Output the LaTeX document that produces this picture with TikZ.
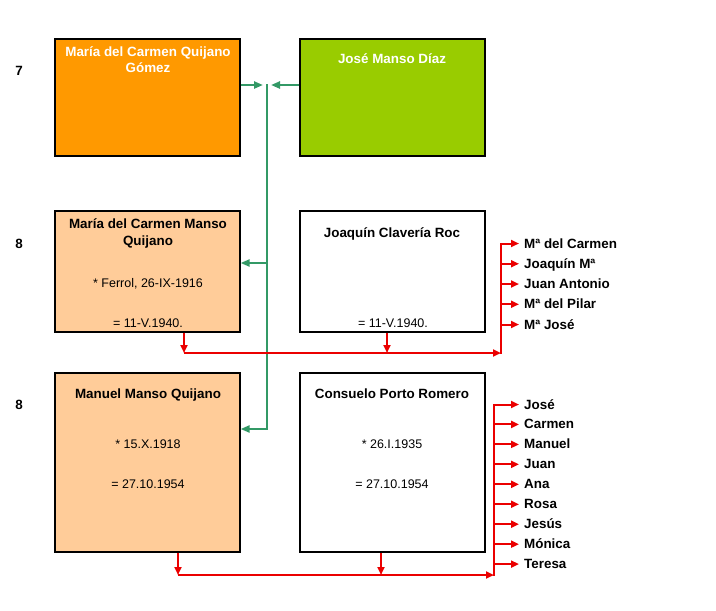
\documentclass[tikz,border=0pt]{standalone}
\usepackage{fontspec}
\setmainfont{Liberation Sans}
\usetikzlibrary{arrows.meta}
\definecolor{naranja}{RGB}{255,153,0}
\definecolor{verde}{RGB}{153,204,0}
\definecolor{salmon}{RGB}{255,204,153}
\definecolor{verdeosc}{RGB}{51,153,102}
\definecolor{rojo}{RGB}{235,0,0}
\begin{document}
\begin{tikzpicture}[x=1pt,y=-1pt,
  caja/.style={draw,line width=1.8pt,anchor=north west,minimum width=184.5pt,inner sep=0},
  nom/.style={font=\fontsize{13.4}{15}\selectfont\bfseries,inner sep=0,anchor=base},
  dat/.style={font=\fontsize{12.5}{15}\selectfont,inner sep=0,anchor=base},
  gen/.style={font=\fontsize{13.4}{15}\selectfont\bfseries,inner sep=0,anchor=base},
  hijo/.style={font=\fontsize{13.4}{15}\selectfont\bfseries,inner sep=0,inner xsep=5pt,
    text height=9pt,text depth=0pt,anchor=base west},
  lverde/.style={draw=verdeosc,line width=2.2pt,-{Triangle[length=9pt,width=7pt]}},
  lrojo/.style={draw=rojo,line width=2pt,-{Triangle[length=8pt,width=7pt]}},
  trazo/.style={draw=rojo,line width=2pt,line cap=rect}]
\useasboundingbox (0,0) rectangle (716,611);
% generaciones
\node[gen] (g7) at (19,75) {7};
\node[gen] (g8a) at (19,248) {8};
\node[gen] (g8b) at (19,409) {8};
% cajas
\node[caja,fill=naranja,minimum height=116.5pt] (mcq) at (54.3,38.3) {};
\node[caja,fill=verde,minimum height=116.5pt] (jmd) at (299.3,38.3) {};
\node[caja,fill=salmon,minimum height=120.5pt] (mcm) at (54.3,210.3) {};
\node[caja,fill=white,minimum height=120.5pt] (jcr) at (299.3,210.3) {};
\node[caja,fill=salmon,minimum height=178.5pt] (mmq) at (54.3,372.3) {};
\node[caja,fill=white,minimum height=178.5pt] (cpr) at (299.3,372.3) {};
% textos
\node[nom,text=white] (tmcq1) at (148,56) {María del Carmen Quijano};
\node[nom,text=white] (tmcq2) at (148,72.5) {Gómez};
\node[nom,text=white] (tjmd) at (392,63) {José Manso Díaz};
\node[nom] (tmcm1) at (148,228) {María del Carmen Manso};
\node[nom] (tmcm2) at (148,245) {Quijano};
\node[dat] (tmcm3) at (148,287) {* Ferrol, 26-IX-1916};
\node[dat] (tmcm4) at (148,327) {= 11-V.1940.};
\node[nom] (tjcr1) at (392,237) {Joaquín Clavería Roc};
\node[dat] (tjcr2) at (393,327) {= 11-V.1940.};
\node[nom] (tmmq1) at (148,398) {Manuel Manso Quijano};
\node[dat] (tmmq2) at (148,448) {* 15.X.1918};
\node[dat] (tmmq3) at (148,488) {= 27.10.1954};
\node[nom] (tcpr1) at (392,398) {Consuelo Porto Romero};
\node[dat] (tcpr2) at (392,448) {* 26.I.1935};
\node[dat] (tcpr3) at (392,488) {= 27.10.1954};
% hijos
\foreach \n [count=\k] in {Mª del Carmen,Joaquín Mª,Juan Antonio,Mª del Pilar,Mª José}
  \node[hijo] (kA\k) at (519,227.75+20.25*\k) {\n};
\foreach \n [count=\k] in {José,Carmen,Manuel,Juan,Ana,Rosa,Jesús,Mónica,Teresa}
  \node[hijo] (kB\k) at (519,389.05+19.95*\k) {\n};
% enlaces
\coordinate (gA) at (263,85);
\coordinate (gB) at (271,85);
\coordinate (gT) at (267,84);
\coordinate (gC) at (267,263);
\coordinate (gE) at (267,429);
\draw[lverde] (mcq.east |- gA) -- (gA);
\draw[lverde] (jmd.west |- gB) -- (gB);
\draw[lverde] (gT) -- (gE) -- (mmq.east |- gE);
\draw[lverde] (gC) -- (mcm.east |- gC);
\coordinate (bA1) at (184,353);
\coordinate (bA2) at (387,353);
\coordinate (bA3) at (501,353);
\draw[lrojo] (mcm.south -| bA1) -- (bA1);
\draw[lrojo] (jcr.south -| bA2) -- (bA2);
\draw[lrojo] (bA1) -- (bA3);
\draw[trazo] (bA3) -- (bA3 |- kA1.west);
\foreach \k in {1,...,5}
  \draw[lrojo] (bA3 |- kA\k.west) -- (kA\k.west);
\coordinate (bB1) at (178,575);
\coordinate (bB2) at (381,575);
\coordinate (bB3) at (494,575);
\draw[lrojo] (mmq.south -| bB1) -- (bB1);
\draw[lrojo] (cpr.south -| bB2) -- (bB2);
\draw[lrojo] (bB1) -- (bB3);
\draw[trazo] (bB3) -- (bB3 |- kB1.west);
\foreach \k in {1,...,9}
  \draw[lrojo] (bB3 |- kB\k.west) -- (kB\k.west);
\end{tikzpicture}
\end{document}
